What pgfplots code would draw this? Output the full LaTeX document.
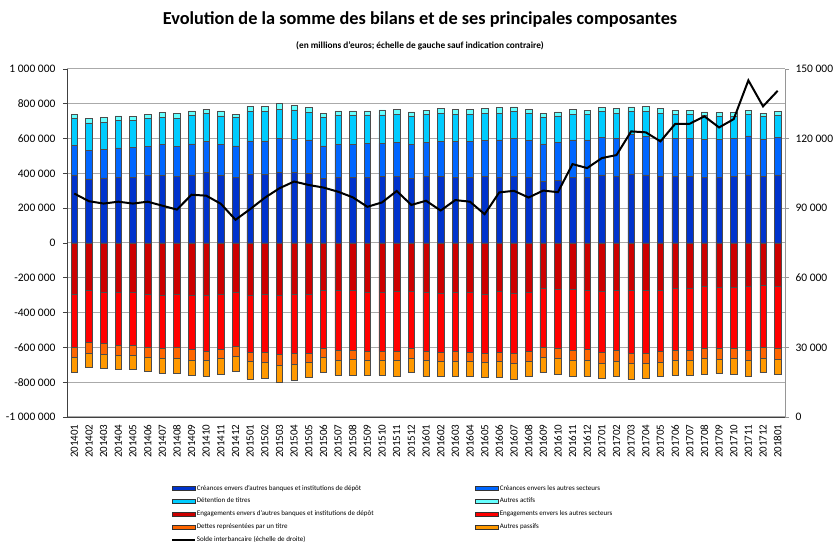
\documentclass[border=0pt]{standalone}
\usepackage{fontspec}
\setmainfont{Carlito}
\usepackage{pgfplots}
\usepackage{pgfplotstable}
\pgfplotsset{compat=1.18}

\definecolor{cBanq}{RGB}{0,51,204}
\definecolor{cSect}{RGB}{0,102,255}
\definecolor{cTitr}{RGB}{0,204,255}
\definecolor{cAact}{RGB}{102,255,255}
\definecolor{cEBanq}{RGB}{204,0,0}
\definecolor{cESect}{RGB}{255,0,0}
\definecolor{cDett}{RGB}{255,102,0}
\definecolor{cApas}{RGB}{255,153,0}
\definecolor{cGrid}{RGB}{170,170,170}
\definecolor{cAxis}{RGB}{64,64,64}
\definecolor{cAxisR}{RGB}{150,150,150}

% montants en milliers de millions (positifs / negatifs), solde en millions
\pgfplotstableread{
x  m      db  b   lc  aa  dr   r    o   lo   s
0  201401 387 172 156 24 -294 -307 -55 -87  96300
1  201402 368 166 156 25 -272 -300 -61 -81  93000
2  201403 374 166 153 27 -282 -296 -61 -81  92000
3  201404 377 169 159 25 -282 -305 -60 -78  92800
4  201405 377 173 155 23 -282 -305 -60 -78  92000
5  201406 387 169 159 24 -294 -307 -55 -81  92800
6  201407 387 178 159 25 -299 -307 -56 -84  91100
7  201408 381 175 162 25 -294 -307 -61 -85  89400
8  201409 391 178 165 25 -299 -313 -60 -88  95800
9  201410 404 179 163 23 -303 -317 -52 -92  95400
10 201411 388 179 164 29 -292 -318 -54 -92  91900
11 201412 375 183 163 19 -282 -313 -58 -86  85000
12 201501 394 193 169 29 -303 -323 -53 -104 89600
13 201502 394 193 169 31 -297 -329 -59 -92  94500
14 201503 408 194 167 33 -303 -334 -63 -100 98600
15 201504 404 192 169 25 -297 -336 -64 -92  101500
16 201505 398 194 158 31 -292 -341 -52 -88  100000
17 201506 371 187 163 25 -269 -336 -51 -89  98900
18 201507 379 188 168 25 -272 -342 -58 -88  97100
19 201508 375 192 168 25 -274 -340 -54 -92  94700
20 201509 377 196 164 23 -282 -340 -50 -88  90600
21 201510 381 192 164 28 -282 -340 -50 -88  92500
22 201511 381 196 163 29 -278 -344 -50 -96  97400
23 201512 371 194 162 27 -278 -327 -57 -83  91400
24 201601 381 198 160 23 -282 -340 -54 -90  93200
25 201602 381 203 161 27 -288 -341 -52 -87  89000
26 201603 377 207 157 27 -282 -342 -55 -89  93500
27 201604 377 207 157 27 -282 -346 -53 -87  92800
28 201605 381 209 155 27 -294 -339 -52 -88  87400
29 201606 375 217 153 33 -278 -350 -53 -92  96800
30 201607 383 220 152 27 -288 -345 -58 -92  97500
31 201608 375 215 153 27 -282 -338 -61 -87  94600
32 201609 356 213 153 21 -259 -340 -57 -89  97600
33 201610 362 217 151 23 -265 -338 -59 -94  96900
34 201611 375 217 149 27 -265 -351 -60 -92  109000
35 201612 375 217 147 23 -269 -343 -60 -92  107300
36 201701 391 218 148 23 -278 -351 -62 -86  111600
37 201702 381 222 142 29 -269 -347 -61 -91  112900
38 201703 397 226 132 27 -272 -361 -58 -92  123100
39 201704 391 220 146 27 -269 -364 -58 -88  122700
40 201705 381 215 149 29 -269 -355 -61 -83  118800
41 201706 381 219 138 24 -259 -357 -56 -88  126300
42 201707 381 221 136 24 -259 -357 -56 -88  126400
43 201708 377 219 138 19 -249 -357 -58 -90  129600
44 201709 377 219 130 23 -255 -348 -63 -84  124800
45 201710 381 221 124 25 -255 -351 -56 -92  128400
46 201711 391 224 124 23 -249 -367 -59 -88  145100
47 201712 381 217 128 21 -244 -353 -65 -83  133900
48 201801 391 218 123 25 -249 -357 -62 -86  140600
}\data

\pgfplotsset{
  barstyle/.style={fill=#1, draw=black!70, line width=0.5pt,
    legend image code/.code={\draw[fill=#1, draw=black!80, line width=0.6pt] (0pt,-2pt) rectangle (23pt,2pt);}},
  common/.style={at={(67pt,134pt)}, anchor=south west,
    scale only axis, width=718pt, height=348pt,
    xmin=-0.5, xmax=48.5,
    axis line style={draw=cAxis, line width=0.9pt},
    every outer x axis line/.append style={-},
    every outer y axis line/.append style={-},
    tick align=outside, major tick length=4pt,
    y tick style={draw=cAxis, line width=0.8pt},
    x tick style={draw=none},
    y tick label style={font=\fontsize{11.5}{12}\selectfont},
    scaled y ticks=false},
}

\begin{document}
\begin{tikzpicture}
\useasboundingbox (0,0) rectangle (840pt,551pt);

% actifs (au-dessus de zero), grille et axe de gauche
\begin{axis}[common,
  ymin=-1000, ymax=1000,
  ybar stacked, bar width=6.5pt,
  axis y line*=left, axis x line*=bottom,
  ymajorgrids, grid style={draw=cGrid, line width=1pt},
  ytick={-1000,-800,...,1000},
  yticklabels={-1 000 000,-800 000,-600 000,-400 000,-200 000,0,200 000,400 000,600 000,800 000,1 000 000},
  y tick label style={xshift=-4pt},
  xtick={0,...,48},
  xticklabels={201401,201402,201403,201404,201405,201406,201407,201408,201409,201410,201411,201412,
    201501,201502,201503,201504,201505,201506,201507,201508,201509,201510,201511,201512,
    201601,201602,201603,201604,201605,201606,201607,201608,201609,201610,201611,201612,
    201701,201702,201703,201704,201705,201706,201707,201708,201709,201710,201711,201712,201801},
  x tick label style={rotate=90, anchor=east, font=\fontsize{11}{12}\selectfont},
  legend columns=2, legend cell align=left,
  legend style={at={(0.145,-0.193)}, anchor=north west, draw=none, fill=none,
    font=\fontsize{7}{8}\selectfont, row sep=4.9pt, inner sep=0pt,
    nodes={inner sep=0.8pt},
    /tikz/every even column/.append style={column sep=101pt}},
]
\addplot[barstyle=cBanq] table[x=x, y=db] {\data};
\addlegendentry{Créances envers d'autres banques et institutions de dépôt}
\addplot[barstyle=cSect] table[x=x, y=b] {\data};
\addlegendentry{Créances envers les autres secteurs}
\addplot[barstyle=cTitr] table[x=x, y=lc] {\data};
\addlegendentry{Détention de titres}
\addplot[barstyle=cAact] table[x=x, y=aa] {\data};
\addlegendentry{Autres actifs}
\addlegendimage{barstyle=cEBanq}
\addlegendentry{Engagements envers d'autres banques et institutions de dépôt}
\addlegendimage{barstyle=cESect}
\addlegendentry{Engagements envers les autres secteurs}
\addlegendimage{barstyle=cDett}
\addlegendentry{Dettes représentées par un titre}
\addlegendimage{barstyle=cApas}
\addlegendentry{Autres passifs}
\addlegendimage{black, line width=1.8pt,
  legend image code/.code={\draw[black, line width=1.8pt] (0pt,0pt) -- (23pt,0pt);}}
\addlegendentry{Solde interbancaire (échelle de droite)}
\end{axis}

% passifs (en dessous de zero)
\begin{axis}[common,
  ymin=-1000, ymax=1000,
  ybar stacked, bar width=6.5pt,
  hide axis,
]
\addplot[barstyle=cEBanq] table[x=x, y=dr] {\data};
\addplot[barstyle=cESect] table[x=x, y=r] {\data};
\addplot[barstyle=cDett] table[x=x, y=o] {\data};
\addplot[barstyle=cApas] table[x=x, y=lo] {\data};
\end{axis}

% solde interbancaire, axe de droite
\begin{axis}[common,
  ymin=0, ymax=150000,
  axis y line*=right, axis x line=none,
  axis line style={draw=cAxisR, line width=0.9pt},
  y tick style={draw=cAxisR, line width=0.8pt},
  xtick=\empty,
  ytick={0,30000,...,150000},
  yticklabels={0,30 000,60 000,90 000,120 000,150 000},
  y tick label style={xshift=3pt},
]
\addplot[black, line width=2pt, mark=none] table[x=x, y=s] {\data};
\end{axis}

\node[anchor=base, font=\bfseries\fontsize{18.3}{21}\selectfont] at (420pt,526pt)
  {Evolution de la somme des bilans et de ses principales composantes};
\node[anchor=base, font=\bfseries\fontsize{9.3}{11}\selectfont] at (420pt,502pt)
  {(en millions d'euros; échelle de gauche sauf indication contraire)};
\end{tikzpicture}
\end{document}
